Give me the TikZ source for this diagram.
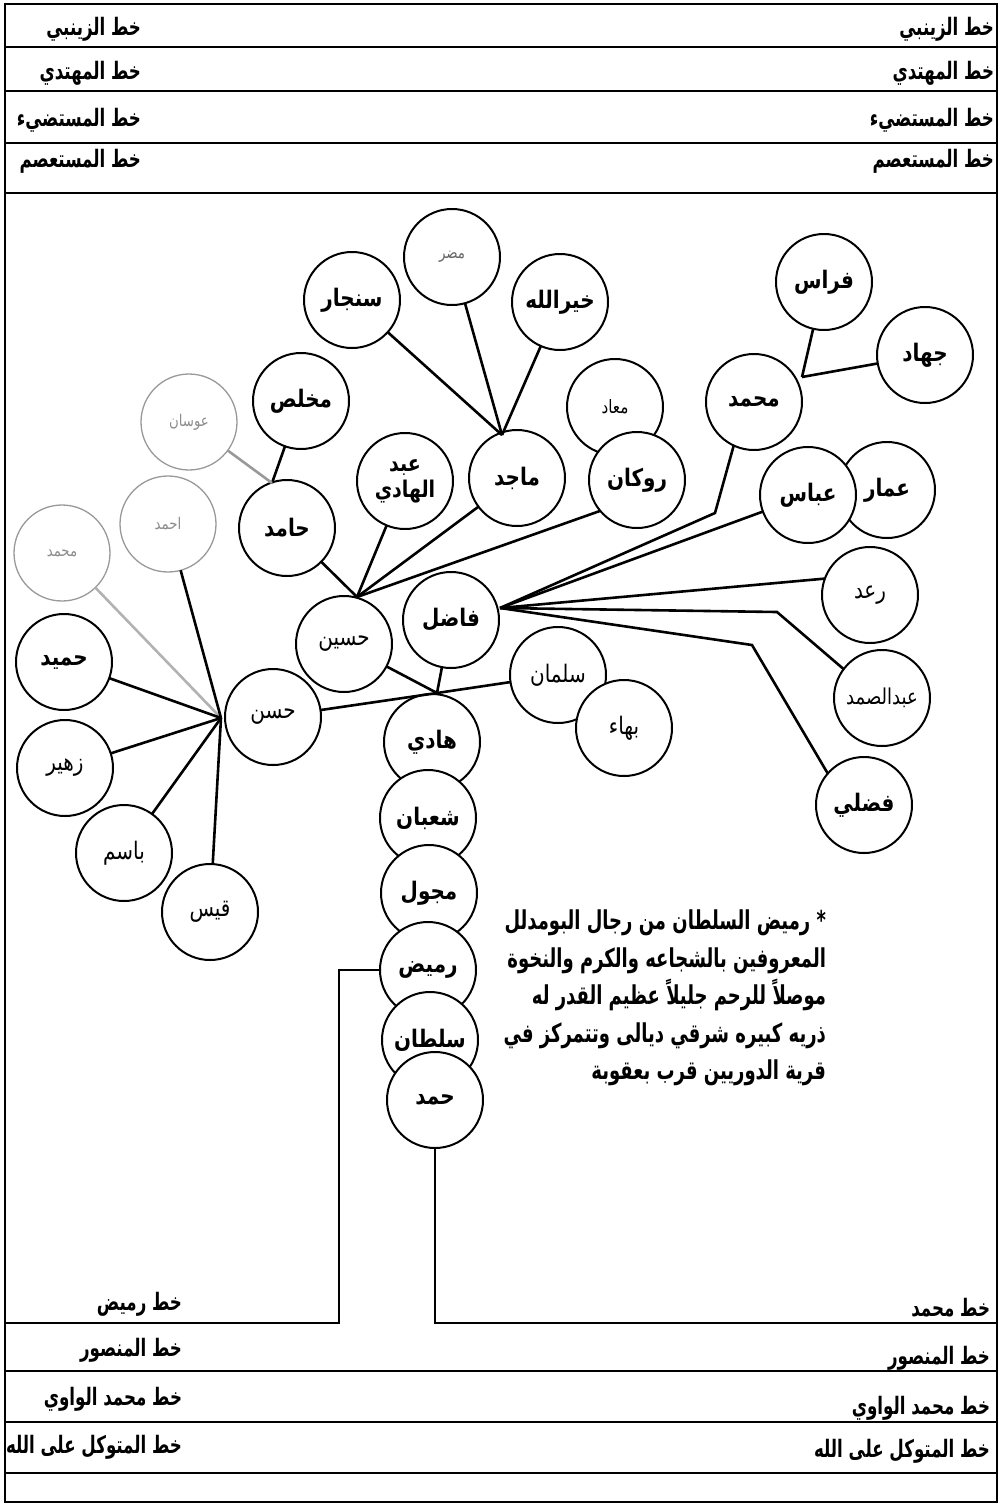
\documentclass[tikz,border=0pt]{standalone}
\usepackage{fontspec}
\usepackage{graphicx}
\newfontfamily\arabicfont[Script=Arabic]{DejaVu Sans}
\TeXXeTstate=1
\newcommand{\artxt}[1]{\scalebox{0.95}[1.15]{\beginR#1\endR}}
\newcommand{\tallartxt}[1]{\scalebox{0.9}[1.3]{\beginR#1\endR}}
\tikzset{
  person/.style={circle, draw, line width=2pt, minimum size=96pt, fill=white, align=center,
    font=\arabicfont\bfseries\fontsize{21}{25}\selectfont},
  lightname/.style={person, font=\arabicfont\fontsize{21}{25}\selectfont},
  faded/.style={person, draw=black!40, text=black!45, line width=1.3pt,
    font=\arabicfont\fontsize{14}{16}\selectfont},
  branch/.style={line width=2.6pt, line join=miter},
  bandline/.style={line width=2.8pt},
  bandname/.style={anchor=east, font=\arabicfont\bfseries\fontsize{18.5}{20}\selectfont},
  note/.style={anchor=north east, align=right, font=\arabicfont\bfseries\fontsize{20}{37.5}\selectfont}
}
\begin{document}
\begin{tikzpicture}[y=1pt, x=1pt, yscale=-1, xscale=1, inner sep=0pt, outer sep=0pt]
\useasboundingbox (0,0) rectangle (1003,1505);

\draw[bandline] (5,4) -- (997,4) -- (997,1502) -- (5,1502) -- cycle;
\foreach \y in {47,91,143,193,1371,1422,1473}
  \draw[bandline] (5,\y) -- (997,\y);

\foreach \y/\t [count=\i] in {29/خط الزينبي,73/خط المهتدي,120/خط المستضيء,161/خط المستعصم}{
  \node[bandname] (topL\i) at (141,\y) {\tallartxt{\t}};
  \node[bandname] (topR\i) at (994,\y) {\tallartxt{\t}};
}
\foreach \y/\z/\t [count=\i] in {1350/1358/خط المنصور,1399/1408/خط محمد الواوي,1447/1451/خط المتوكل على الله}{
  \node[bandname] (lowL\i) at (182,\y) {\tallartxt{\t}};
  \node[bandname] (lowR\i) at (990,\z) {\tallartxt{\t}};
}
\node[bandname] (lineRumaidh) at (182,1304) {\tallartxt{خط رميض}};
\node[bandname] (lineMuhammad) at (990,1308) {\tallartxt{خط محمد}};

\node[faded] (owsan) at (189,422) {\artxt{عوسان}};
\node[faded] (ahmad) at (168,524) {\artxt{احمد}};
\node[faded] (muhammadL) at (62,553) {\artxt{محمد}};
\node[person] (mukhlis) at (301,401) {\artxt{مخلص}};
\node[person] (sinjar) at (352,300) {\artxt{سنجار}};
\node[person, text=black!60, font=\arabicfont\fontsize{14}{16}\selectfont] (mudar) at (452,257) {\artxt{مضر}};
\node[person] (khairallah) at (560,302) {\artxt{خيرالله}};
\node[person, font=\arabicfont\fontsize{16}{18}\selectfont] (muath) at (615,407) {\artxt{معاد}};
\node[person] (rukan) at (637,480) {\artxt{روكان}};
\node[person] (majid) at (517,478) {\artxt{ماجد}};
\node[person, font=\arabicfont\bfseries\fontsize{20}{26}\selectfont] (abdulhadi) at (405,481) {\artxt{عبد}\\\artxt{الهادي}};
\node[person] (hamid) at (287,528) {\artxt{حامد}};
\node[person] (firas) at (824,282) {\artxt{فراس}};
\node[person] (jihad) at (925,355) {\artxt{جهاد}};
\node[person] (muhammadR) at (754,402) {\artxt{محمد}};
\node[person] (ammar) at (887,490) {\artxt{عمار}};
\node[person] (abbas) at (808,495) {\artxt{عباس}};
\node[person] (humaid) at (64,662) {\artxt{حميد}};
\node[lightname] (zuhair) at (65,768) {\artxt{زهير}};
\node[lightname] (basim) at (124,853) {\artxt{باسم}};
\node[lightname] (qais) at (210,912) {\artxt{قيس}};
\node[lightname] (hasan) at (273,717) {\artxt{حسن}};
\node[lightname] (husain) at (344,644) {\artxt{حسين}};
\node[person] (fadil) at (451,620) {\artxt{فاضل}};
\node[lightname] (salman) at (558,675) {\artxt{سلمان}};
\node[lightname] (bahaa) at (624,728) {\artxt{بهاء}};
\node[lightname] (raad) at (870,595) {\artxt{رعد}};
\node[lightname, font=\arabicfont\fontsize{19}{22}\selectfont] (abdulsamad) at (882,698) {\artxt{عبدالصمد}};
\node[person] (fadli) at (864,805) {\artxt{فضلي}};
\node[person] (hadi) at (432,742) {\artxt{هادي}};
\node[person] (shaban) at (428,818) {\artxt{شعبان}};
\node[person] (majwal) at (429,893) {\artxt{مجول}};
\node[person] (rumaidh) at (428,970) {\artxt{رميض}};
\node[person] (sultan) at (430,1040) {\artxt{سلطان}};
\node[person] (hamad) at (435,1100) {\artxt{حمد}};

\coordinate (hasanHub) at (221,718);
\coordinate (husainHub) at (357,597);
\coordinate (majidHub) at (502,435);
\coordinate (hamidHub) at (272,483);
\coordinate (muhammadHub) at (802,377);
\coordinate (fadilHub) at (500,608);
\coordinate (trunkJoin) at (437,693);
\coordinate (muhammadBend) at (715,513);
\coordinate (samadBend) at (777,612);
\coordinate (fadliBend) at (752,645);
\coordinate (rumaidhCorner) at (339,1323);
\coordinate (frameLeft) at (5,1323);
\coordinate (frameRight) at (997,1323);

\draw[branch, black!30] (muhammadL) -- (hasanHub);
\draw[branch] (ahmad) -- (hasanHub);
\draw[branch] (humaid) -- (hasanHub);
\draw[branch] (zuhair) -- (hasanHub);
\draw[branch] (basim) -- (hasanHub);
\draw[branch] (qais) -- (hasanHub);
\draw[branch] (hasan) -- (trunkJoin) -- (salman);
\draw[branch] (husain) -- (trunkJoin);
\draw[branch] (fadil) -- (trunkJoin);
\draw[branch] (hamid) -- (husainHub);
\draw[branch] (abdulhadi) -- (husainHub);
\draw[branch] (majid) -- (husainHub);
\draw[branch] (rukan.220) -- (husainHub);
\draw[branch] (sinjar) -- (majidHub);
\draw[branch] (mudar) -- (majidHub);
\draw[branch] (khairallah) -- (majidHub);
\draw[branch] (mukhlis) -- (hamidHub);
\draw[branch, black!40] (owsan) -- (hamidHub);
\draw[branch] (firas) -- (muhammadHub);
\draw[branch] (jihad) -- (muhammadHub);
\draw[branch] (muhammadR.245) -- (muhammadBend) -- (fadilHub);
\draw[branch] (abbas) -- (fadilHub);
\draw[branch] (raad.160) -- (fadilHub);
\draw[branch] (abdulsamad.143) -- (samadBend) -- (fadilHub);
\draw[branch] (fadli.139) -- (fadliBend) -- (fadilHub);

\draw[bandline] (rumaidh.west) -| (rumaidhCorner) -- (frameLeft);
\draw[bandline] (hamad.south) |- (frameRight);

\node[note] (remark) at (826,910) {\tallartxt{* رميض السلطان من رجال البومدلل}\\
  \tallartxt{المعروفين بالشجاعه والكرم والنخوة}\\
  \tallartxt{موصلاً للرحم جليلاً عظيم القدر له}\\
  \tallartxt{ذريه كبيره شرقي ديالى وتتمركز في}\\
  \tallartxt{قرية الدوريين قرب بعقوبة}};
\end{tikzpicture}
\end{document}
